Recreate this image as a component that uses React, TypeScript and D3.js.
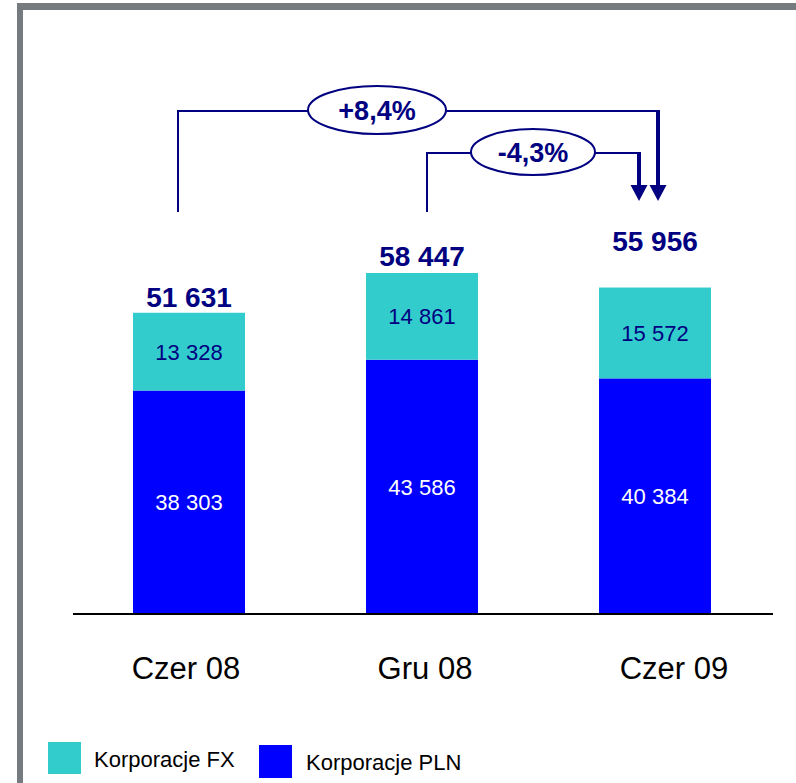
import React from "react";
import * as d3 from "d3";

const categories = ["Czer 08", "Gru 08", "Czer 09"];
const pln = [38303, 43586, 40384];
const fx = [13328, 14861, 15572];
const totals = [51631, 58447, 55956];
const changes = [
  { from: 0, to: 2, label: "+8,4%" },
  { from: 1, to: 2, label: "-4,3%" },
];
const legendItems = [
  { name: "Korporacje FX", color: "#33CCCC" },
  { name: "Korporacje PLN", color: "#0000FF" },
];

const W = 796;
const H = 783;
const NAVY = "#000080";
const FONT = "'Liberation Sans', Arial, sans-serif";

export default function App() {
  const x = d3.scalePoint<string>().domain(categories).range([189, 655]);
  const bw = 112;
  const y = d3.scaleLinear().domain([0, 58447]).range([614, 273]);

  const stack = d3.stack<any>().keys(["pln", "fx"])(
    categories.map((c, i) => ({ cat: c, pln: pln[i], fx: fx[i] }))
  );
  const colors: Record<string, string> = { pln: "#0000FF", fx: "#33CCCC" };
  const labelColors: Record<string, string> = { pln: "#FFFFFF", fx: NAVY };

  const totalOffset = [6, 7, 37];
  const catOffset = [-3, 3, 19];

  const bracketLevels = [111, 153];
  const startOffsets = [-11, 5];
  const endOffsets = [3, -16];
  const bracketBottom = 212;
  const arrowTip = 201;
  const ellipseR = [
    [69, 24],
    [62, 23],
  ];
  const ellipseCx = [377, 533];

  const fmt = (v: number) => d3.format(",")(v).replace(/,/g, " ");

  return (
    <svg
      width={W}
      height={H}
      style={{ position: "absolute", left: 0, top: 0, background: "#fff" }}
      fontFamily={FONT}
    >
      <rect x={17} y={3} width={W - 17} height={7} fill="#767b80" />
      <rect x={17} y={3} width={6} height={H - 3} fill="#767b80" />

      {stack.map((layer) =>
        layer.map((d, i) => (
          <rect
            key={layer.key + i}
            x={(x(categories[i]) as number) - bw / 2}
            y={y(d[1])}
            width={bw}
            height={y(d[0]) - y(d[1])}
            fill={colors[layer.key]}
          />
        ))
      )}
      {stack.map((layer) =>
        layer.map((d, i) => (
          <text
            key={"t" + layer.key + i}
            x={x(categories[i]) as number}
            y={(y(d[0]) + y(d[1])) / 2 + 8}
            textAnchor="middle"
            fontSize={22}
            fill={labelColors[layer.key]}
          >
            {fmt(d[1] - d[0])}
          </text>
        ))
      )}

      {totals.map((t, i) => (
        <text
          key={"tot" + i}
          x={x(categories[i]) as number}
          y={y(t) - totalOffset[i]}
          textAnchor="middle"
          fontSize={28}
          fontWeight="bold"
          fill={NAVY}
        >
          {fmt(t)}
        </text>
      ))}

      <line x1={73} x2={773} y1={614} y2={614} stroke="#000" strokeWidth={2} />

      {categories.map((c, i) => (
        <text
          key={c}
          x={(x(c) as number) + catOffset[i]}
          y={679}
          textAnchor="middle"
          fontSize={31}
          fill="#000"
        >
          {c}
        </text>
      ))}

      {changes.map((ch, k) => {
        const x0 = (x(categories[ch.from]) as number) + startOffsets[k];
        const x1 = (x(categories[ch.to]) as number) + endOffsets[k];
        const ly = bracketLevels[k];
        return (
          <g key={"br" + k}>
            <path
              d={`M${x0},${bracketBottom} V${ly} H${x1}`}
              fill="none"
              stroke={NAVY}
              strokeWidth={2}
            />
            <line
              x1={x1}
              x2={x1}
              y1={ly - 1}
              y2={arrowTip - 14}
              stroke={NAVY}
              strokeWidth={4}
            />
            <path
              d={`M${x1 - 8.5},${arrowTip - 16} L${x1 + 8.5},${arrowTip - 16} L${x1},${arrowTip} Z`}
              fill={NAVY}
            />
            <ellipse
              cx={ellipseCx[k]}
              cy={ly - 1}
              rx={ellipseR[k][0]}
              ry={ellipseR[k][1]}
              fill="#fff"
              stroke={NAVY}
              strokeWidth={2}
            />
            <text
              x={ellipseCx[k]}
              y={ly + 9}
              textAnchor="middle"
              fontSize={27}
              fontWeight="bold"
              fill={NAVY}
            >
              {ch.label}
            </text>
          </g>
        );
      })}

      <rect x={48} y={742} width={33} height={32} fill={legendItems[0].color} />
      <text x={94} y={767} fontSize={22} fill="#000">
        {legendItems[0].name}
      </text>
      <rect x={259} y={745} width={33} height={33} fill={legendItems[1].color} />
      <text x={306} y={770} fontSize={22} fill="#000">
        {legendItems[1].name}
      </text>
    </svg>
  );
}
